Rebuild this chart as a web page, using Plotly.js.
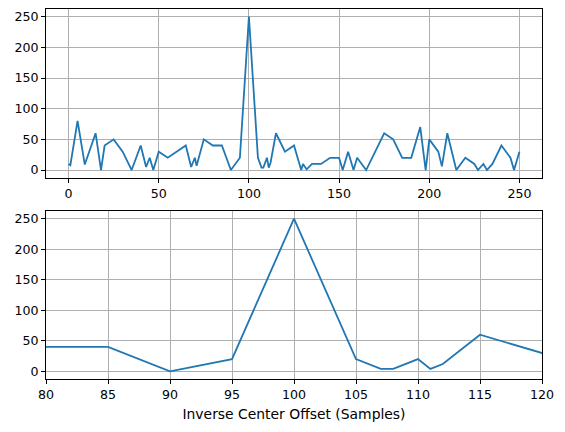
<!DOCTYPE html>
<html>
<head>
<meta charset="utf-8">
<script src="https://cdn.plot.ly/plotly-3.0.1.min.js"></script>
<style>
  html, body { margin: 0; padding: 0; background: #fff; }
  #plot { width: 565px; height: 432px; }
</style>
</head>
<body>
<div id="plot"></div>
<script>
// offsets (samples) and correlation values
const offsets = [0, 1, 5, 9, 15, 18, 20, 25, 30, 35, 40, 43, 45, 47, 50, 55, 65, 68, 70, 71,
  75, 80, 85, 90, 95, 100, 105, 107, 108, 110, 111, 112, 115, 120, 125, 129, 130, 132, 135, 140,
  145, 150, 152, 155, 158, 160, 165, 175, 180, 185, 190, 195, 198, 200, 205, 207, 210, 215, 220, 225,
  227, 230, 232, 235, 240, 245, 247, 250]
const values = [10, 8, 80, 9, 60, 0, 40, 50, 30, 0, 40, 5, 20, 0, 30, 20, 40, 5, 20, 7,
  50, 40, 40, 0, 20, 250, 20, 4, 4, 20, 4, 12, 60, 30, 40, 0, 10, 1, 10, 10,
  20, 20, 0, 30, 0, 20, 0, 60, 50, 20, 20, 70, 0, 50, 30, 6, 60, 0, 20, 10,
  0, 10, 0, 10, 40, 20, 0, 30]

const yTicks = [0, 50, 100, 150, 200, 250]
const topXTicks = [0, 50, 100, 150, 200, 250]
const zoomXTicks = [80, 85, 90, 95, 100, 105, 110, 115, 120]

const lineStyle = { color: '#1f77b4', width: 1.8 }

const trace1 = {
  x: offsets, y: values, type: 'scatter', mode: 'lines',
  line: lineStyle, xaxis: 'x', yaxis: 'y', showlegend: false
}
const trace2 = {
  x: offsets, y: values, type: 'scatter', mode: 'lines',
  line: lineStyle, xaxis: 'x2', yaxis: 'y2', showlegend: false
}

function axis(extra) {
  return Object.assign({
    showgrid: true, gridcolor: '#b0b0b0', gridwidth: 1,
    zeroline: false, showline: true, mirror: true,
    linecolor: '#000', linewidth: 1,
    ticks: 'outside', ticklen: 4, tickcolor: '#000', tickwidth: 1,
    tickfont: { size: 12.6, color: '#000' }
  }, extra)
}

const layout = {
  width: 565, height: 432,
  margin: { l: 46, r: 23, t: 9, b: 53 },
  paper_bgcolor: '#fff', plot_bgcolor: '#fff',
  font: { family: 'DejaVu Sans', size: 12.6, color: '#000' },
  xaxis: axis({ domain: [0, 1], anchor: 'y', range: [-12.5, 262.5], tickvals: topXTicks }),
  yaxis: axis({ domain: [0.544, 1], anchor: 'x', range: [-12.5, 262.5], tickvals: yTicks }),
  xaxis2: axis({
    domain: [0, 1], anchor: 'y2', range: [80, 120], tickvals: zoomXTicks,
    title: { text: 'Inverse Center Offset (Samples)', font: { size: 13.9, color: '#000' }, standoff: 8 }
  }),
  yaxis2: axis({ domain: [0, 0.454], anchor: 'x2', range: [-12.5, 262.5], tickvals: yTicks })
}

Plotly.newPlot('plot', [trace1, trace2], layout, { staticPlot: true })
</script>
</body>
</html>
